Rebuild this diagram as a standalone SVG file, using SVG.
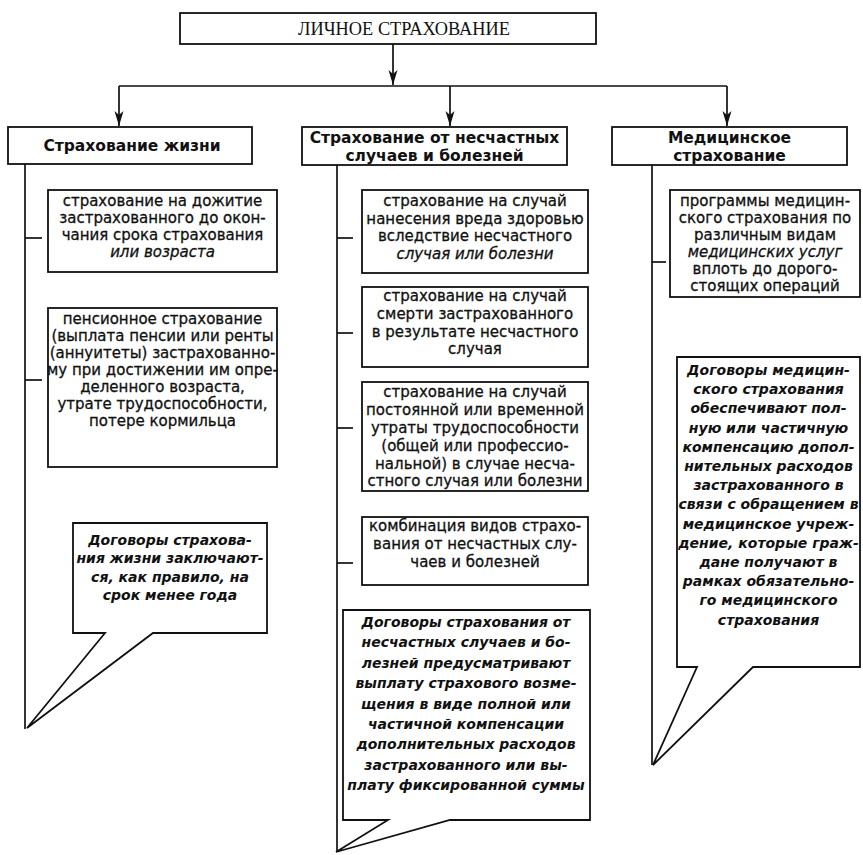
<svg xmlns="http://www.w3.org/2000/svg" width="863" height="855" viewBox="0 0 863 855">
<defs>
<marker id="arr" markerUnits="userSpaceOnUse" markerWidth="16" markerHeight="10" refX="15" refY="4.5" orient="auto">
<path d="M0,0 L15,4.5 L0,9 L4,4.5 Z" fill="#111"/>
</marker>
<style>
rect, .box { fill: #fff; stroke: #111; stroke-width: 1.8; }
.ln { fill: none; stroke: #111; stroke-width: 1.7; }
.title { font-family: "Liberation Serif", serif; font-size: 18px; fill: #111; }
.hd { font-family: "DejaVu Sans", sans-serif; font-weight: bold; font-size: 15.5px; fill: #111; text-anchor: middle; }
.bd { font-family: "DejaVu Sans", sans-serif; font-size: 15px; fill: #111; stroke: #111; stroke-width: 0.3; text-anchor: middle; }
.it { font-style: italic; }
.co { font-family: "DejaVu Sans", sans-serif; font-weight: bold; font-style: italic; font-size: 14px; fill: #111; text-anchor: middle; }
</style>
</defs>
<rect x="0" y="0" width="863" height="855" style="fill:#fff;stroke:none"/>

<g id="connectors">
<line class="ln" x1="393" y1="44" x2="393" y2="85" marker-end="url(#arr)"/>
<line class="ln" x1="119" y1="86" x2="727" y2="86"/>
<line class="ln" x1="119" y1="86" x2="119" y2="126" marker-end="url(#arr)"/>
<line class="ln" x1="450" y1="86" x2="450" y2="126" marker-end="url(#arr)"/>
<line class="ln" x1="727" y1="86" x2="727" y2="126" marker-end="url(#arr)"/>
<line class="ln" x1="25" y1="164" x2="25" y2="729"/>
<line class="ln" x1="25" y1="238" x2="42" y2="238"/>
<line class="ln" x1="25" y1="380" x2="42" y2="380"/>
<line class="ln" x1="337" y1="165" x2="337" y2="852"/>
<line class="ln" x1="337" y1="238" x2="353" y2="238"/>
<line class="ln" x1="337" y1="333" x2="353" y2="333"/>
<line class="ln" x1="337" y1="428" x2="353" y2="428"/>
<line class="ln" x1="337" y1="563" x2="353" y2="563"/>
<line class="ln" x1="652" y1="165" x2="652" y2="765"/>
<line class="ln" x1="652" y1="262" x2="666" y2="262"/>
</g>

<g id="root">
<rect x="180" y="13" width="416" height="31"/>
<text class="title" x="298" y="35" textLength="212" lengthAdjust="spacingAndGlyphs">ЛИЧНОЕ СТРАХОВАНИЕ</text>
</g>

<g id="life">
<rect x="8" y="127" width="244" height="37"/>
<text class="hd" x="132" y="151">Страхование жизни</text>
</g>
<g id="life-1">
<rect x="48" y="190" width="229" height="82"/>
<text class="bd" x="162.5" y="206">страхование на дожитие</text>
<text class="bd" x="162.5" y="223">застрахованного до окон-</text>
<text class="bd" x="162.5" y="240">чания срока страхования</text>
<text class="bd it" x="162.5" y="257">или возраста</text>
</g>
<g id="life-2">
<rect x="48" y="308" width="229" height="159"/>
<text class="bd" x="162.5" y="324">пенсионное страхование</text>
<text class="bd" x="162.5" y="341">(выплата пенсии или ренты</text>
<text class="bd" x="162.5" y="358">(аннуитеты) застрахованно-</text>
<text class="bd" x="162.5" y="375">му при достижении им опре-</text>
<text class="bd" x="162.5" y="392">деленного возраста,</text>
<text class="bd" x="162.5" y="409">утрате трудоспособности,</text>
<text class="bd" x="162.5" y="426">потере кормильца</text>
</g>
<g id="life-note">
<path class="box" d="M73,523 H267 V633 H153 L27,728 L105,633 H73 Z"/>
<text class="co" x="170" y="545">Договоры страхова-</text>
<text class="co" x="170" y="563">ния жизни заключают-</text>
<text class="co" x="170" y="582">ся, как правило, на</text>
<text class="co" x="170" y="600">срок менее года</text>
</g>

<g id="accident">
<rect x="302" y="127" width="265" height="38"/>
<text class="hd" x="434.5" y="143">Страхование от несчастных</text>
<text class="hd" x="434.5" y="161">случаев и болезней</text>
</g>
<g id="accident-1">
<rect x="362" y="190" width="226" height="83"/>
<text class="bd" x="475" y="206">страхование на случай</text>
<text class="bd" x="475" y="224">нанесения вреда здоровью</text>
<text class="bd" x="475" y="241">вследствие несчастного</text>
<text class="bd it" x="475" y="259">случая или болезни</text>
</g>
<g id="accident-2">
<rect x="362" y="287" width="226" height="80"/>
<text class="bd" x="475" y="301">страхование на случай</text>
<text class="bd" x="475" y="319">смерти застрахованного</text>
<text class="bd" x="475" y="337">в результате несчастного</text>
<text class="bd" x="475" y="354">случая</text>
</g>
<g id="accident-3">
<rect x="362" y="382" width="226" height="109"/>
<text class="bd" x="475" y="397">страхование на случай</text>
<text class="bd" x="475" y="415">постоянной или временной</text>
<text class="bd" x="475" y="433">утраты трудоспособности</text>
<text class="bd" x="475" y="451">(общей или профессио-</text>
<text class="bd" x="475" y="469">нальной) в случае несча-</text>
<text class="bd" x="475" y="486">стного случая или болезни</text>
</g>
<g id="accident-4">
<rect x="362" y="517" width="226" height="68"/>
<text class="bd" x="475" y="531">комбинация видов страхо-</text>
<text class="bd" x="475" y="549">вания от несчастных слу-</text>
<text class="bd" x="475" y="567">чаев и болезней</text>
</g>
<g id="accident-note">
<path class="box" d="M343,610 H590 V820 H450 L336,852 L388,820 H343 Z"/>
<text class="co" x="466" y="627">Договоры страхования от</text>
<text class="co" x="466" y="647">несчастных случаев и бо-</text>
<text class="co" x="466" y="668">лезней предусматривают</text>
<text class="co" x="466" y="688">выплату страхового возме-</text>
<text class="co" x="466" y="709">щения в виде полной или</text>
<text class="co" x="466" y="729">частичной компенсации</text>
<text class="co" x="466" y="749">дополнительных расходов</text>
<text class="co" x="466" y="770">застрахованного или вы-</text>
<text class="co" x="466" y="790">плату фиксированной суммы</text>
</g>

<g id="medical">
<rect x="612" y="127" width="235" height="38"/>
<text class="hd" x="729.5" y="143">Медицинское</text>
<text class="hd" x="729.5" y="161">страхование</text>
</g>
<g id="medical-1">
<rect x="670" y="190" width="190" height="107"/>
<text class="bd" x="765" y="206">программы медицин-</text>
<text class="bd" x="765" y="223">ского страхования по</text>
<text class="bd" x="765" y="240">различным видам</text>
<text class="bd it" x="765" y="257">медицинских услуг</text>
<text class="bd" x="765" y="274">вплоть до дорого-</text>
<text class="bd" x="765" y="291">стоящих операций</text>
</g>
<g id="medical-note">
<path class="box" d="M677,357 H860 V667 H753 L653,765 L697,667 H677 Z"/>
<text class="co" x="768.5" y="375">Договоры медицин-</text>
<text class="co" x="768.5" y="394">ского страхования</text>
<text class="co" x="768.5" y="413">обеспечивают пол-</text>
<text class="co" x="768.5" y="433">ную или частичную</text>
<text class="co" x="768.5" y="452">компенсацию допол-</text>
<text class="co" x="768.5" y="471">нительных расходов</text>
<text class="co" x="768.5" y="490">застрахованного в</text>
<text class="co" x="768.5" y="509">связи с обращением в</text>
<text class="co" x="768.5" y="529">медицинское учреж-</text>
<text class="co" x="768.5" y="548">дение, которые граж-</text>
<text class="co" x="768.5" y="567">дане получают в</text>
<text class="co" x="768.5" y="586">рамках обязательно-</text>
<text class="co" x="768.5" y="605">го медицинского</text>
<text class="co" x="768.5" y="625">страхования</text>
</g>
</svg>
